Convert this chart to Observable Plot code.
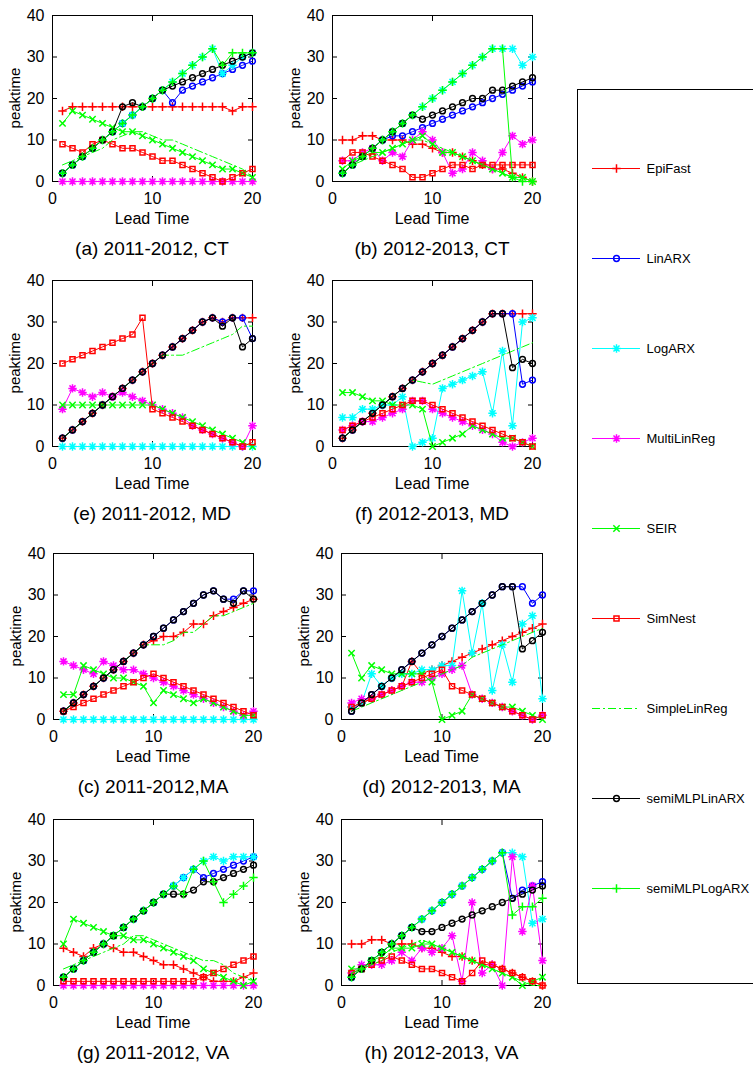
<!DOCTYPE html>
<html><head><meta charset="utf-8">
<script src="https://cdn.jsdelivr.net/npm/d3@7"></script>
<script src="https://cdn.jsdelivr.net/npm/@observablehq/plot@0.6"></script>
<style>
body{margin:0;background:#fff;font-family:"Liberation Sans",Arial,sans-serif;}
#root{position:relative;width:753px;height:1065px;overflow:hidden;background:#fff;}
.abs{position:absolute;}
.lbl{position:absolute;transform:translate(-50%,-50%);white-space:nowrap;color:#000;line-height:1;}
.legbox{position:absolute;border:1.5px solid #000;box-sizing:border-box;}
</style></head><body><div id="root"></div>
<script>
// ---------- data ----------
const methods = ["EpiFast","LinARX","LogARX","MultiLinReg","SEIR","SimNest","SimpleLinReg","semiMLPLinARX","semiMLPLogARX"];
const leadTime = [1,2,3,4,5,6,7,8,9,10,11,12,13,14,15,16,17,18,19,20];
const xTicks = [0,10,20];
const yTicks = [0,10,20,30,40];
const captions = ["(a) 2011-2012, CT","(b) 2012-2013, CT","(e) 2011-2012, MD","(f) 2012-2013, MD","(c) 2011-2012,MA","(d) 2012-2013, MA","(g) 2011-2012, VA","(h) 2012-2013, VA"];

// each panel: one list per method, in the order of `methods`
const ct1112 = [
  [17,18,18,18,18,18,18,18,18,18,18,18,18,18,18,18,18,17,18,18],
  [2,4,6,8,10,12,14,16,18,20,22,19,22,23,24,25,26,27,28,29],
  [2,4,6,8,10,12,14,16,18,20,22,24,26,28,30,32,26,28,30,31],
  [0,0,0,0,0,0,0,0,0,0,0,0,0,0,0,0,0,0,0,0],
  [14,17,16,15,14,13,12,12,11,10,9,8,7,6,5,4,3,3,2,1],
  [9,8,7,9,10,9,8,8,7,6,5,5,4,3,2,1,0,1,2,3],
  [4,5,6,7,8,10,11,12,12,11,10,10,9,8,7,6,5,4,3,1],
  [2,4,6,8,10,12,18,19,18,20,22,23,24,25,26,27,28,29,30,31],
  [2,4,6,8,10,12,14,16,18,20,22,24,26,28,30,32,28,31,31,31]
];
const ct1213 = [
  [10,10,11,11,10,10,10,9,9,8,7,7,6,5,4,3,3,2,1,0],
  [2,4,6,8,10,11,11,12,13,14,15,16,17,18,19,20,21,22,23,24],
  [2,4,6,8,10,12,14,16,18,20,22,24,26,28,30,32,32,32,28,30],
  [5,5,7,8,5,7,6,10,12,10,7,2,3,7,5,3,7,11,9,10],
  [3,5,6,7,7,8,9,10,11,9,7,7,6,5,4,3,2,1,1,0],
  [5,7,7,6,5,4,3,1,1,2,3,4,4,3,4,4,4,4,4,4],
  [2,4,5,6,7,8,9,10,10,9,8,7,6,5,4,3,2,1,1,0],
  [2,4,6,8,10,12,14,16,15,16,17,18,19,20,20,22,22,23,24,25],
  [2,4,6,8,10,12,14,16,18,20,22,24,26,28,30,32,32,1,0,0]
];
const md1112 = [
  [2,4,6,8,10,12,14,16,18,20,22,24,26,28,30,31,30,31,31,31],
  [2,4,6,8,10,12,14,16,18,20,22,24,26,28,30,31,30,31,31,26],
  [0,0,0,0,0,0,0,0,0,0,0,0,0,0,0,0,0,0,0,0],
  [9,14,13,12,13,12,13,12,11,10,9,8,7,5,4,3,2,1,0,5],
  [10,10,10,10,10,10,10,10,10,10,9,8,7,6,5,4,3,2,1,0],
  [20,21,22,23,24,25,26,27,31,9,8,7,6,5,4,3,2,1,0,1],
  [2,4,6,8,10,12,14,16,18,20,22,22,22,23,24,25,26,27,29,29],
  [2,4,6,8,10,12,14,16,18,20,22,24,26,28,30,31,29,31,24,26],
  []
];
const md1213 = [
  [2,4,6,8,10,12,14,16,18,20,22,24,26,28,30,32,32,32,32,32],
  [2,4,6,8,10,12,14,16,18,20,22,24,26,28,30,32,32,32,15,16],
  [7,7,9,9,10,10,12,0,1,2,14,15,16,17,18,8,23,5,30,31],
  [4,5,6,6,7,8,9,11,11,9,8,7,6,5,4,3,1,0,1,2],
  [13,13,12,11,11,10,10,10,9,0,1,2,3,5,4,3,2,2,1,0],
  [4,5,6,7,8,9,10,11,11,10,9,8,7,6,5,4,3,2,1,0],
  [2,4,6,8,10,12,14,16,15.5,15,16,17,18,19,20,21,22,23,24,25],
  [2,4,6,8,10,12,14,16,18,20,22,24,26,28,30,32,32,19,21,20],
  []
];
const ma1112 = [
  [2,4,6,8,10,12,14,16,18,19,20,20,21,23,23,25,26,27,28,29],
  [2,4,6,8,10,12,14,16,18,20,22,24,26,28,30,31,29,29,31,31],
  [0,0,0,0,0,0,0,0,0,0,0,0,0,0,0,0,0,0,0,0],
  [14,13,12,11,14,13,12,12,11,10,9,8,7,6,5,4,3,2,1,2],
  [6,6,13,12,11,10,10,9,8,4,7,6,5,4,5,4,3,2,1,1],
  [2,3,4,5,6,7,8,9,10,11,10,9,8,7,6,5,4,3,2,1],
  [2,4,6,8,10,12,14,16,18,18,18,19,21,21,23,25,25,26,27,28],
  [2,4,6,8,10,12,14,16,18,20,22,24,26,28,30,31,29,28,31,29],
  []
];
const ma1213 = [
  [3,4,5,6,7,8,14,11,12,13,14,15,16,17,18,19,20,21,22,23],
  [2,4,6,8,10,12,14,16,18,20,22,24,26,28,30,32,32,32,28,30],
  [3,4,11,8,10,11,11,12,12,13,13,31,16,28,7,18,9,23,25,5],
  [4,5,5,6,7,8,9,9,10,11,12,13,6,5,4,3,2,1,0,1],
  [16,10,13,12,11,11,11,11,9,0,1,2,6,5,4,3,3,2,1,0],
  [3,4,5,6,7,8,9,10,11,12,8,7,6,5,4,3,2,1,0,1],
  [2,3,4,5,6,7,8,9,10,11,12,13,15,16,17,18,19,20,21,22],
  [2,4,6,8,10,12,14,16,18,20,22,24,26,28,30,32,32,17,19,21],
  []
];
const va1112 = [
  [9,8,7,9,10,9,8,8,7,6,5,5,4,3,2,1,1,1,2,3],
  [2,4,6,8,10,12,14,16,18,20,22,24,26,28,26,27,28,29,30,31],
  [2,4,6,8,10,12,14,16,18,20,22,24,26,28,30,31,30,31,31,31],
  [0,0,0,0,0,0,0,0,0,0,0,0,0,0,0,0,0,0,0,0],
  [10,16,15,14,13,12,12,11,11,10,9,8,7,6,4,3,2,1,0,1],
  [1,1,1,1,1,1,1,1,1,1,1,1,1,1,2,3,4,5,6,7],
  [4,5,6,7,8,9,10,12,12,11,10,9,8,7,6,6,5,3,2,1],
  [2,4,6,8,10,12,14,16,18,20,22,22,22,23,25,25,26,27,28,29],
  [2,4,6,8,10,12,14,16,18,20,22,24,22,28,30,25,20,22,24,26]
];
const va1213 = [
  [10,10,11,11,10,10,10,9,9,8,7,7,6,5,5,4,3,2,1,0],
  [2,4,6,8,10,12,14,16,18,20,22,24,26,28,30,32,21,23,24,25],
  [2,4,6,8,10,12,14,16,18,20,22,24,26,28,30,32,32,31,15,16],
  [3,5,5,5,6,8,6,9,8,9,12,1,20,3,5,0,31,13,24,6],
  [4,4,6,7,9,9,9,10,10,9,8,7,6,5,4,3,2,0,1,2],
  [3,4,5,6,7,6,5,4,4,3,2,1,3,6,5,4,3,2,1,0],
  [3,4,5,6,8,9,10,11,10,9,8,7,6,5,4,3,2,1,0,0],
  [2,4,6,8,10,12,14,13,13,14,15,16,17,18,19,20,21,22,23,24],
  [2,4,6,8,10,12,14,16,18,20,22,24,26,28,30,32,17,19,19,21]
];

// ---------- styles ----------
const FONT = '"Liberation Sans", Arial, sans-serif';
function R(s){return Math.sqrt(s/Math.PI);}
const SYM = {
  plus:{draw(c,s){const r=R(s);c.moveTo(-r,0);c.lineTo(r,0);c.moveTo(0,-r);c.lineTo(0,r);}},
  times:{draw(c,s){const r=R(s)*0.88;c.moveTo(-r,-r);c.lineTo(r,r);c.moveTo(-r,r);c.lineTo(r,-r);}},
  asterisk:{draw(c,s){const r=R(s),d=r*0.72;c.moveTo(-r,0);c.lineTo(r,0);c.moveTo(0,-r);c.lineTo(0,r);c.moveTo(-d,-d);c.lineTo(d,d);c.moveTo(-d,d);c.lineTo(d,-d);}},
  circle:{draw(c,s){const r=R(s)*0.8;c.moveTo(r,0);c.arc(0,0,r,0,2*Math.PI);c.closePath();}},
  square:{draw(c,s){const r=R(s)*0.7;c.rect(-r,-r,2*r,2*r);}}
};
const STY = {
  EpiFast:{color:"#ff0000",symbol:"plus",r:4.2},
  LinARX:{color:"#0000ff",symbol:"circle",r:3.6},
  LogARX:{color:"#00ffff",symbol:"asterisk",r:4.2},
  MultiLinReg:{color:"#ff00ff",symbol:"asterisk",r:4.2},
  SEIR:{color:"#00ff00",symbol:"times",r:3.6},
  SimNest:{color:"#ff0000",symbol:"square",r:3.6},
  SimpleLinReg:{color:"#00ff00",symbol:null,dash:"8,3,2,3"},
  semiMLPLinARX:{color:"#000000",symbol:"circle",r:3.6},
  semiMLPLogARX:{color:"#00ff00",symbol:"plus",r:4.2}
};

// ---------- layout ----------
const panels = [
  {data:ct1112, L:52, R:252, T:15, B:181},
  {data:ct1213, L:332, R:532, T:15, B:181},
  {data:md1112, L:52, R:252, T:280, B:446},
  {data:md1213, L:332, R:532, T:280, B:446},
  {data:ma1112, L:53, R:253, T:553, B:719},
  {data:ma1213, L:341, R:542, T:553, B:719},
  {data:va1112, L:53, R:253, T:819, B:985},
  {data:va1213, L:341, R:542, T:819, B:985}
];

const root = document.getElementById("root");
function addText(txt, x, y, size, rotate){
  const d = document.createElement("div");
  d.className = "lbl";
  d.textContent = txt;
  d.style.left = x+"px"; d.style.top = y+"px";
  d.style.fontSize = size+"px";
  d.style.fontFamily = FONT;
  if (rotate) d.style.transform = "translate(-50%,-50%) rotate(-90deg)";
  root.appendChild(d);
}

panels.forEach((p, i) => {
  const ml = 46, mr = 14, mt = 14, mb = 30;
  const W = p.R - p.L + ml + mr, H = p.B - p.T + mt + mb;
  const marks = [
    Plot.frame({stroke:"#000", strokeWidth:1}),
    Plot.axisX({anchor:"bottom", ticks:xTicks, tickSize:-5, tickPadding:16, label:null, fontSize:16}),
    Plot.axisX({anchor:"top", ticks:xTicks, tickSize:-5, tickFormat:()=>"", label:null}),
    Plot.axisY({anchor:"left", ticks:yTicks, tickSize:-5, tickPadding:13, label:null, fontSize:16}),
    Plot.axisY({anchor:"right", ticks:yTicks, tickSize:-5, tickFormat:()=>"", label:null})
  ];
  methods.forEach((m, k) => {
    const vals = p.data[k];
    if (!vals || !vals.length) return;
    const rows = vals.map((v, j) => ({x: leadTime[j], y: v}));
    const s = STY[m];
    marks.push(Plot.line(rows, {x:"x", y:"y", stroke:s.color, strokeWidth:1, strokeDasharray:s.dash}));
    if (s.symbol) marks.push(Plot.dot(rows, {x:"x", y:"y", symbol:SYM[s.symbol], r:s.r, stroke:s.color, fill:"none", strokeWidth:1.5}));
  });
  const svg = Plot.plot({
    width:W, height:H, marginLeft:ml, marginRight:mr, marginTop:mt, marginBottom:mb,
    x:{domain:[0,20]}, y:{domain:[0,40]},
    style:{fontFamily:FONT, fontSize:"16px", color:"#000", background:"transparent", overflow:"visible"},
    marks
  });
  svg.style.position = "absolute";
  svg.style.left = (p.L - ml)+"px";
  svg.style.top = (p.T - mt)+"px";
  root.appendChild(svg);
  const cx = (p.L + p.R)/2;
  addText("Lead Time", cx, p.B + 38, 16);
  addText(captions[i], cx, p.B + 67, 19);
  addText("peaktime", p.L - 38, (p.T + p.B)/2, 15);
  root.lastChild.style.transform = "translate(-50%,-50%) rotate(-90deg)";
});

// ---------- legend ----------
const box = document.createElement("div");
box.className = "legbox";
box.style.left = "577px"; box.style.top = "89px";
box.style.width = "200px"; box.style.height = "895px";
root.appendChild(box);

const legMarks = [];
methods.forEach(m => {
  const s = STY[m];
  legMarks.push(Plot.ruleY([m], {y:d=>d, x1:15, x2:63, stroke:s.color, strokeWidth:1, strokeDasharray:s.dash}));
  if (s.symbol) legMarks.push(Plot.dot([m], {x:39, y:d=>d, symbol:SYM[s.symbol], r:s.r, stroke:s.color, fill:"none", strokeWidth:1.5}));
  legMarks.push(Plot.text([m], {x:69, y:d=>d, text:d=>d, textAnchor:"start", fontSize:13, fill:"#000"}));
});
const leg = Plot.plot({
  width:176, height:893, marginTop:79, marginBottom:94, marginLeft:0, marginRight:0,
  axis:null,
  x:{type:"identity", axis:null},
  y:{type:"point", domain:methods, padding:0, axis:null},
  style:{fontFamily:FONT, fontSize:"13px", color:"#000", background:"transparent", overflow:"visible"},
  marks:legMarks
});
leg.style.position = "absolute";
leg.style.left = "577px"; leg.style.top = "89px";
root.appendChild(leg);
</script></body></html>
